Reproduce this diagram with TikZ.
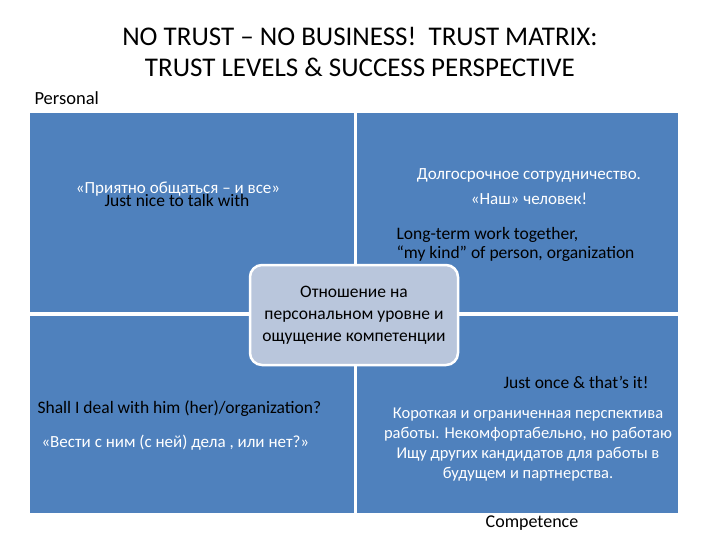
\documentclass[tikz,border=0pt]{standalone}
\usepackage{fontspec}
\setmainfont{Carlito}
\begin{document}
\begin{tikzpicture}[x=1pt,y=-1pt,
  quad/.style={fill=qblue,draw=none},
  wt/.style={text=white,font=\fontsize{17}{20}\selectfont,align=center},
  bt/.style={text=black,font=\fontsize{17.5}{19}\selectfont,align=left}]
\definecolor{qblue}{HTML}{4F81BD}
\definecolor{cbox}{HTML}{B9C6DC}
\useasboundingbox (0,0) rectangle (720,540);
\fill[white] (0,0) rectangle (720,540);
\node[font=\fontsize{27}{31}\selectfont,align=center] (title) at (360,52) {NO TRUST -- NO BUSINESS!\ \ TRUST MATRIX:\\TRUST LEVELS \& SUCCESS PERSPECTIVE};
\node[font=\fontsize{18.5}{20}\selectfont,anchor=west] (pers) at (31,98) {Personal};
\fill[quad] (30,113) rectangle (354,312);
\fill[quad] (357,113) rectangle (678,312);
\fill[quad] (30,316) rectangle (354,513);
\fill[quad] (357,316) rectangle (678,513);
\node[fill=cbox,draw=white,line width=2.5pt,rounded corners=12pt,minimum width=208,minimum height=100,
  font=\fontsize{17.5}{22}\selectfont,align=center] (c) at (354,315)
  {Отношение на\\персональном уровне и\\ощущение компетенции};
\node[wt] (q1) at (178,189) {«Приятно общаться – и все»};
\node[bt,anchor=west] (e1) at (101,200) {Just nice to talk with};
\node[wt] (q2) at (529,187) {Долгосрочное сотрудничество.\\[5pt]«Наш» человек!};
\node[bt,anchor=west] (e2) at (393,244) {Long-term work together,\\“my kind” of person, organization};
\node[bt,anchor=west] (e3) at (500,382) {Just once \& that's it!};
\node[bt,anchor=west] (e4) at (34,409) {Shall I deal with him (her)/organization?};
\node[wt,anchor=west] (q4) at (38,443) {«Вести с ним (с ней) дела , или нет?»};
\node[wt,font=\fontsize{16.5}{20}\selectfont] (q3) at (528,445) {Короткая и ограниченная перспектива\\работы. Некомфортабельно, но работаю\\Ищу других кандидатов для работы в\\будущем и партнерства.};
\node[font=\fontsize{18}{20}\selectfont] (comp) at (532,523) {Competence};
\end{tikzpicture}
\end{document}
